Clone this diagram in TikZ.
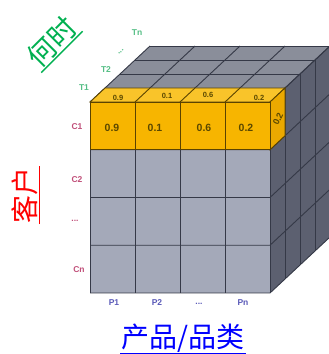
\documentclass[tikz,border=0pt]{standalone}
\usepackage{fontspec}
\setmainfont{Liberation Sans}
\newfontfamily\cjk{Noto Sans CJK SC}
\definecolor{topgray}{HTML}{8A8E9A}
\definecolor{sidegray}{HTML}{5C6070}
\definecolor{frontgray}{HTML}{A4A9B9}
\definecolor{gridc}{HTML}{353947}
\definecolor{yfront}{HTML}{F7B500}
\definecolor{ytop}{HTML}{F9C42A}
\definecolor{yside}{HTML}{EBA900}
\definecolor{ybord}{HTML}{5A4300}
\definecolor{valc}{HTML}{5A4800}
\definecolor{tgreen}{HTML}{55BE85}
\definecolor{cred}{HTML}{C04E78}
\definecolor{pblue}{HTML}{5A5AB8}
\definecolor{bgreen}{HTML}{00B050}
\definecolor{bred}{HTML}{FF0000}
\definecolor{bblue}{HTML}{0000FF}
\begin{document}
\begin{tikzpicture}[x=1pt,y=-1pt,
  gridline/.style={draw=gridc,line width=0.9pt},
  ybox/.style={draw=ybord,line width=0.9pt},
  axlab/.style={font=\bfseries\fontsize{8.5}{9}\selectfont,inner sep=0pt},
  val/.style={font=\bfseries\fontsize{10.5}{12}\selectfont,text=valc,inner sep=0pt},
  tval/.style={font=\bfseries\fontsize{7.5}{8}\selectfont,text=valc,inner sep=0pt},
  big/.style={font=\cjk\fontsize{28}{30}\selectfont,inner sep=1pt}]
\useasboundingbox (0,0) rectangle (329,354);
% gray cube
\fill[topgray] (90,102) -- (270,102) -- (330,46) -- (150,46) -- cycle;
\fill[sidegray] (270,102) -- (330,46) -- (330,237) -- (270,293) -- cycle;
\fill[frontgray] (90,102) rectangle (270,293);
\foreach \i in {0,...,4} {
  \draw[gridline] (90+45*\i,102) -- ++(60,-56);
  \draw[gridline] (90+45*\i,102) -- (90+45*\i,293);
}
\foreach \k in {0,...,4} {
  \draw[gridline] (90+15*\k,102-14*\k) -- ++(180,0);
  \draw[gridline] (270+15*\k,102-14*\k) -- ++(0,191);
}
\foreach \j in {0,...,4} {
  \draw[gridline] (90,102+47.75*\j) -- (270,102+47.75*\j) -- ++(60,-56);
}
% yellow slab
\filldraw[ybox,fill=ytop] (90,102) -- (270,102) -- (285,88) -- (105,88) -- cycle;
\filldraw[ybox,fill=yside] (270,102) -- (285,88) -- (285,135.75) -- (270,149.75) -- cycle;
\filldraw[ybox,fill=yfront] (90,102) rectangle (270,149.75);
\foreach \i in {1,2,3} {
  \draw[ybox] (90+45*\i,102) -- (90+45*\i,149.75);
  \draw[ybox] (90+45*\i,102) -- ++(15,-14);
}
% values
\node[val] (f1) at (112,128) {0.9};
\node[val] (f2) at (155,128) {0.1};
\node[val] (f3) at (204,128) {0.6};
\node[val] (f4) at (246,128) {0.2};
\node[tval] (t1) at (118,98) {0.9};
\node[tval] (t2) at (167,96) {0.1};
\node[tval] (t3) at (208,95) {0.6};
\node[tval] (t4) at (259,98) {0.2};
\node[val,rotate=65,font=\bfseries\fontsize{9}{10}\selectfont] (s1) at (278,119) {0.2};
% axis labels
\node[axlab,text=tgreen] (T1) at (84,88) {T1};
\node[axlab,text=tgreen] (T2) at (106,70) {T2};
\node[axlab,text=tgreen,rotate=45] (Td) at (121,52) {...};
\node[axlab,text=tgreen] (Tn) at (137,33) {Tn};
\node[axlab,text=cred] (C1) at (77,127) {C1};
\node[axlab,text=cred] (C2) at (77,180) {C2};
\node[axlab,text=cred] (Cd) at (75,221) {...};
\node[axlab,text=cred] (Cn) at (79,270) {Cn};
\node[axlab,text=pblue] (P1) at (114,303) {P1};
\node[axlab,text=pblue] (P2) at (157,303) {P2};
\node[axlab,text=pblue] (Pd) at (199,304) {...};
\node[axlab,text=pblue] (Pn) at (243,303) {Pn};
% big labels
\node[big,text=bgreen,rotate=45] (when) at (52,42) {何时};
\draw[bgreen,line width=1.4pt] (when.south west) -- (when.south east);
\node[big,text=bred,rotate=90] (cust) at (25,195) {客户};
\draw[bred,line width=1.4pt] (cust.south west) -- (cust.south east);
\node[big,text=bblue] (prod) at (183,338) {产品/品类};
\draw[bblue,line width=1.4pt] (prod.south west) -- (prod.south east);
\end{tikzpicture}
\end{document}
